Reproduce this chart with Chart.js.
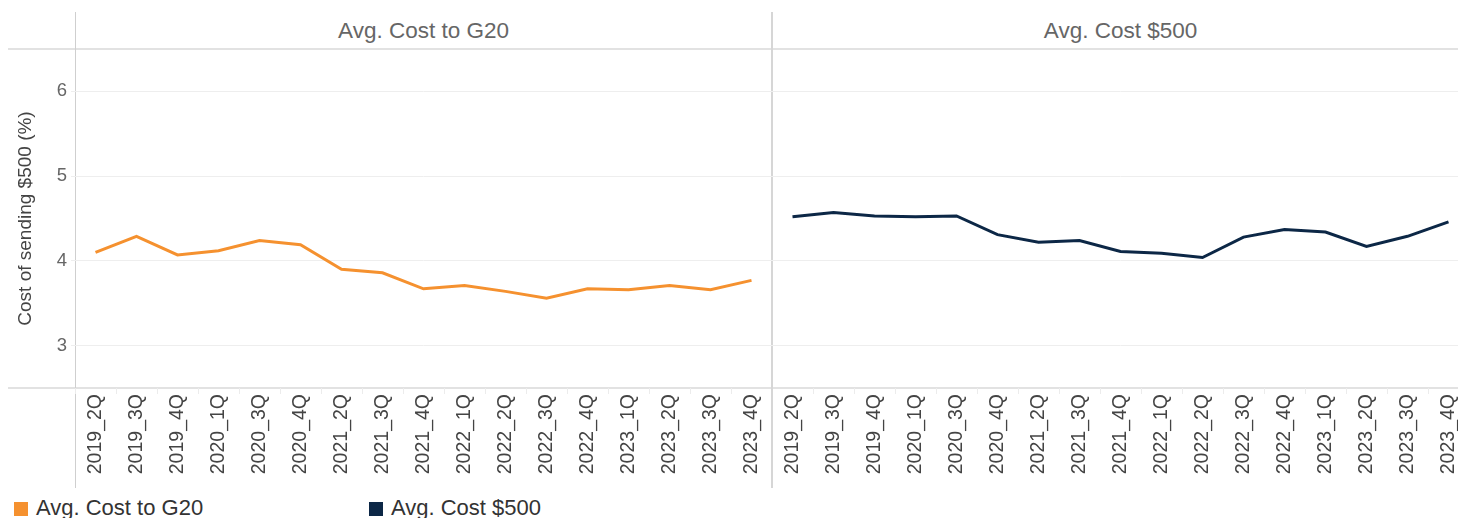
<!DOCTYPE html>
<html>
<head>
<meta charset="utf-8">
<script src="https://cdn.jsdelivr.net/npm/chart.js@4"></script>
<style>
  html, body { margin: 0; padding: 0; background: #fff; }
  body { width: 1458px; height: 518px; overflow: hidden; position: relative; font-family: "Liberation Sans", Arial, sans-serif; }
  .abs { position: absolute; }
  .hline { position: absolute; height: 0; border-top: 2px solid #e2e2e2; }
  .vline { position: absolute; width: 0; }
  .panel-title { position: absolute; top: 12px; height: 37px; line-height: 37px; text-align: center; font-size: 22.5px; color: #666; }
  .legend-item { position: absolute; top: 495px; font-size: 22px; color: #333; white-space: nowrap; }
  .legend-item span.sw { display: inline-block; width: 14px; height: 14px; margin-right: 8px; vertical-align: -1px; }
</style>
</head>
<body>

<div class="hline" style="left:8px; width:1450px; top:48px;"></div>
<div class="hline" style="left:8px; width:1450px; top:387px;"></div>
<div class="vline" style="left:75px; top:12px; height:476px; border-left:1px solid #cfcfcf;"></div>
<div class="vline" style="left:771px; top:12px; height:476px; border-left:2px solid #d6d6d6;"></div>

<div class="panel-title" id="t1" style="left:75px; width:697px;"></div>
<div class="panel-title" id="t2" style="left:772px; width:697px;"></div>

<div class="abs" style="left:0; top:49px; width:772px; height:439px;"><canvas id="c1"></canvas></div>
<div class="abs" style="left:772px; top:49px; width:697px; height:439px;"><canvas id="c2"></canvas></div>

<div class="legend-item" id="lg1" style="left:14px;"></div>
<div class="legend-item" id="lg2" style="left:369px;"></div>

<script>
// quarters as listed on the axis (2020_2Q and 2021_1Q are not in the data)
const quarters = [
  "2019_2Q", "2019_3Q", "2019_4Q", "2020_1Q", "2020_3Q", "2020_4Q", "2021_2Q", "2021_3Q",
  "2021_4Q", "2022_1Q", "2022_2Q", "2022_3Q", "2022_4Q", "2023_1Q", "2023_2Q", "2023_3Q", "2023_4Q"
];

const seriesNames = ["Avg. Cost to G20", "Avg. Cost $500"];
const seriesColors = ["#f5912f", "#0c2746"];

const costG20 = [4.10, 4.29, 4.07, 4.12, 4.24, 4.19, 3.90, 3.86, 3.67, 3.71, 3.64, 3.56, 3.67, 3.66, 3.71, 3.66, 3.77];
const cost500 = [4.52, 4.57, 4.53, 4.52, 4.53, 4.31, 4.22, 4.24, 4.11, 4.09, 4.04, 4.28, 4.37, 4.34, 4.17, 4.29, 4.46];

const yTicks = [3, 4, 5, 6];
const yMin = 2.5, yMax = 6.5;
const yTitle = "Cost of sending $500 (%)";

Chart.defaults.font.family = '"Liberation Sans", Arial, sans-serif';
Chart.defaults.animation = false;

function makeChart(canvasId, values, color, showY) {
  return new Chart(document.getElementById(canvasId), {
    type: "line",
    data: {
      labels: quarters,
      datasets: [{
        data: values,
        borderColor: color,
        backgroundColor: color,
        borderWidth: 3,
        pointRadius: 0,
        tension: 0,
      }],
    },
    options: {
      responsive: true,
      maintainAspectRatio: false,
      layout: { padding: 0 },
      scales: {
        x: {
          offset: true,
          grid: { offset: true, drawOnChartArea: false, drawTicks: true, tickLength: 6, color: "#ececec" },
          border: { display: false },
          ticks: {
            minRotation: 90,
            maxRotation: 90,
            autoSkip: false,
            padding: 0,
            color: "#444",
            font: { size: 19.5, lineHeight: 1 },
          },
          afterFit: (scale) => {
            scale.height = 100;
            scale.paddingLeft = 0;
            scale.paddingRight = 0;
          },
        },
        y: {
          min: yMin,
          max: yMax,
          afterBuildTicks: (scale) => { scale.ticks = yTicks.map((v) => ({ value: v })); },
          grid: { color: "#eeeeee", drawTicks: showY, tickLength: 4 },
          border: { display: false },
          ticks: { display: showY, padding: 4, color: "#666", font: { size: 18.5 } },
          title: {
            display: showY,
            text: yTitle,
            color: "#444",
            font: { size: 19 },
            padding: { top: 14, bottom: 0 },
          },
          afterFit: (scale) => {
            scale.width = showY ? 75 : 0;
            scale.paddingTop = 0;
            scale.paddingBottom = 0;
          },
        },
      },
      plugins: {
        legend: { display: false },
        tooltip: { enabled: false },
      },
    },
  });
}

document.getElementById("t1").textContent = seriesNames[0];
document.getElementById("t2").textContent = seriesNames[1];
[["lg1", 0], ["lg2", 1]].forEach(([id, i]) => {
  const el = document.getElementById(id);
  const sw = document.createElement("span");
  sw.className = "sw";
  sw.style.background = seriesColors[i];
  el.appendChild(sw);
  el.appendChild(document.createTextNode(seriesNames[i]));
});

makeChart("c1", costG20, seriesColors[0], true);
makeChart("c2", cost500, seriesColors[1], false);
</script>
</body>
</html>
